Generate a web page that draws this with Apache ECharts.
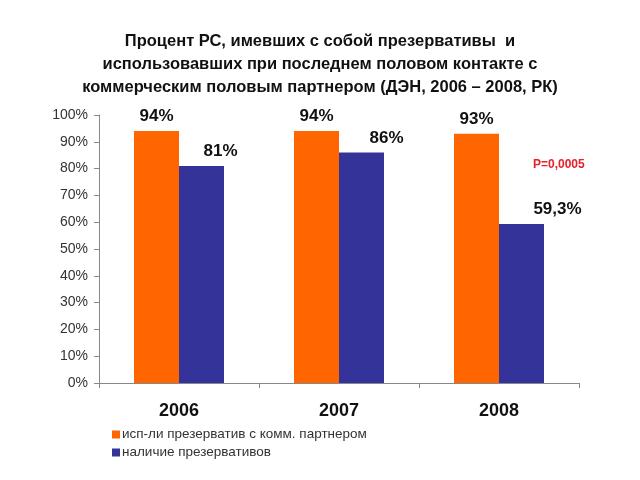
<!DOCTYPE html>
<html>
<head>
<meta charset="utf-8">
<script src="https://cdn.jsdelivr.net/npm/echarts@6/dist/echarts.min.js"></script>
<style>html,body{margin:0;padding:0;background:#fff}#c{width:640px;height:480px}</style>
</head>
<body>
<div id="c"></div>
<script>
var titleText = 'Процент РС, имевших с собой презервативы  и\nиспользовавших при последнем половом контакте с\nкоммерческим половым партнером (ДЭН, 2006 – 2008, РК)';
var years = ['2006', '2007', '2008'];
var seriesNames = ['исп-ли презерватив с комм. партнером', 'наличие презервативов'];
var usedCondom = [94, 94, 93];
var hadCondom = [81, 86, 59.3];
var usedLabels = ['94%', '94%', '93%'];
var hadLabels = ['81%', '86%', '59,3%'];
var yTicks = [0, 10, 20, 30, 40, 50, 60, 70, 80, 90, 100];
var pValueText = 'P=0,0005';

// label horizontal shifts (style only)
var hadLabelDx = [19, 25, 36];

var chart = echarts.init(document.getElementById('c'));
var FONT = 'Liberation Sans, Arial, sans-serif';

chart.setOption({
  animation: false,
  backgroundColor: '#ffffff',
  title: {
    text: titleText,
    left: 'center',
    top: 25,
    textStyle: { fontFamily: FONT, fontSize: 16.5, fontWeight: 'bold', color: '#111', lineHeight: 23 }
  },
  legend: {
    orient: 'vertical',
    left: 107,
    top: 422,
    itemWidth: 8,
    itemHeight: 8,
    itemGap: 3,
    icon: 'rect',
    textStyle: { fontFamily: FONT, fontSize: 13.5, color: '#333', lineHeight: 15, padding: [0, 0, 0, -3] },
    data: seriesNames
  },
  grid: { left: 99, right: 61, top: 115, bottom: 97, containLabel: false },
  xAxis: {
    type: 'category',
    data: years,
    axisLine: { lineStyle: { color: '#888', width: 1 } },
    axisTick: { show: true, length: 5, lineStyle: { color: '#888' } },
    axisLabel: { fontFamily: FONT, fontSize: 18, fontWeight: 'bold', color: '#111', margin: 19 }
  },
  yAxis: {
    type: 'value',
    min: yTicks[0],
    max: yTicks[yTicks.length - 1],
    interval: yTicks[1] - yTicks[0],
    splitLine: { show: false },
    axisLine: { show: true, lineStyle: { color: '#888', width: 1 } },
    axisTick: { show: true, length: 5, lineStyle: { color: '#888' } },
    axisLabel: { fontFamily: FONT, fontSize: 14, color: '#333', margin: 11, formatter: '{value}%' }
  },
  series: [
    {
      name: seriesNames[0],
      type: 'bar',
      barWidth: 45,
      barGap: '0%',
      itemStyle: { color: '#FF6600' },
      label: {
        show: true, position: 'top', distance: 6,
        fontFamily: FONT, fontSize: 17, fontWeight: 'bold', color: '#111',
        formatter: function (p) { return usedLabels[p.dataIndex]; }
      },
      data: usedCondom
    },
    {
      name: seriesNames[1],
      type: 'bar',
      barWidth: 45,
      barGap: '0%',
      itemStyle: { color: '#333399' },
      label: {
        show: true, position: 'top', distance: 6,
        fontFamily: FONT, fontSize: 17, fontWeight: 'bold', color: '#111',
        formatter: function (p) { return hadLabels[p.dataIndex]; }
      },
      data: hadCondom.map(function (v, i) {
        return { value: v, label: { offset: [hadLabelDx[i], 0] } };
      })
    }
  ],
  graphic: [
    {
      type: 'text',
      left: 533,
      top: 159,
      style: { text: pValueText, fontFamily: FONT, fontSize: 12, fontWeight: 'bold', fill: '#E8202A' }
    }
  ]
});
</script>
</body>
</html>
